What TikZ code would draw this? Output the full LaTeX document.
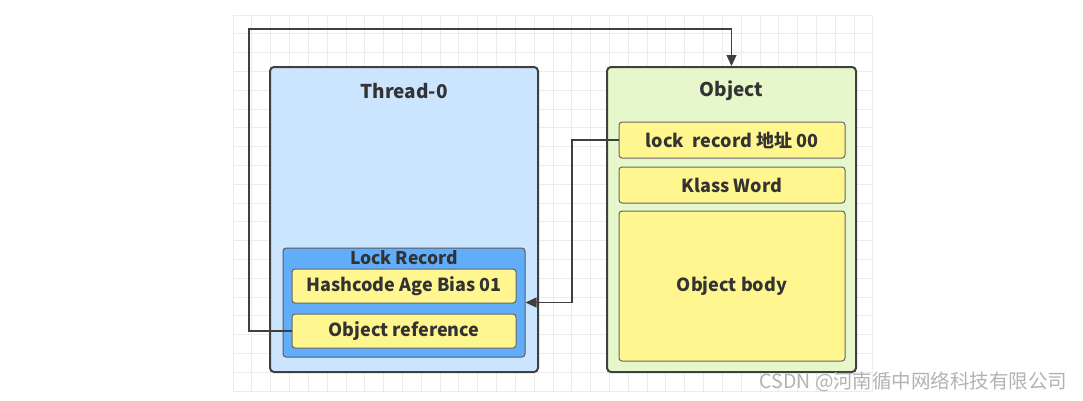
\documentclass[tikz,border=0pt]{standalone}
\usepackage{fontspec}
\setmainfont{Noto Sans CJK SC}
\usetikzlibrary{arrows.meta}
\definecolor{threadblue}{HTML}{CCE5FF}
\definecolor{recordblue}{HTML}{62ADFA}
\definecolor{fieldyellow}{HTML}{FFF68F}
\definecolor{objgreen}{HTML}{E6F7CC}
\definecolor{edgegray}{HTML}{3F3F3F}
\definecolor{gridgray}{HTML}{ECECEC}
\tikzset{
  outer/.style={draw=edgegray, line width=2pt, rounded corners=4pt},
  field/.style={draw=edgegray!80, line width=1pt, rounded corners=3pt,
    fill=fieldyellow, font=\bfseries\fontsize{18}{21}\selectfont, text=black!80},
  title/.style={font=\bfseries\fontsize{19}{22}\selectfont, text=black!80},
  link/.style={draw=edgegray, line width=1.2pt, -{Triangle[length=11pt,width=10pt]}}
}
\begin{document}
\begin{tikzpicture}[x=1pt,y=-1pt]
  \useasboundingbox (0,0) rectangle (1083,400);
  % background grid
  \foreach \i in {0,...,34}
    \draw[gridgray, line width=0.8pt] (233+\i*18.82,15) -- (233+\i*18.82,391);
  \foreach \j in {0,...,20}
    \draw[gridgray, line width=0.8pt] (233,15+\j*18.8) -- (873,15+\j*18.8);

  % thread side
  \node[outer, fill=threadblue, minimum width=268pt, minimum height=305pt]
    (Thread) at (404,219.5) {};
  \node[title] at (404,91) {Thread-0};
  \node[draw=edgegray!85, line width=1pt, rounded corners=3pt, fill=recordblue,
    minimum width=242pt, minimum height=109pt] (Record) at (404,302.5) {};
  \node[title, font=\bfseries\fontsize{17.5}{20}\selectfont] at (404,258) {Lock Record};
  \node[field, minimum width=224pt, minimum height=34pt] (Hash) at (404,286) {Hashcode Age Bias 01};
  \node[field, minimum width=224pt, minimum height=34pt] (ObjRef) at (404,331) {Object reference};

  % object side
  \node[outer, fill=objgreen, minimum width=249pt, minimum height=305pt]
    (Object) at (731.5,219.5) {};
  \node[title] at (731.5,91) {Object};
  \node[field, minimum width=226pt, minimum height=36pt] (Mark) at (732,140) {lock\ \ record 地址 00};
  \node[field, minimum width=226pt, minimum height=36pt] (Klass) at (732,185) {Klass Word};
  \node[field, minimum width=226pt, minimum height=150pt] (Body) at (732,286) {Object body};

  % pointers
  \coordinate (Up) at (249,29);
  \coordinate (Turn) at (572,140);
  \draw[link] (ObjRef.west) -| (Up) -| (Object.north);
  \draw[link] (Mark.west) -- (Turn) |- (Record.east);

  \node[anchor=east, text=black!30, font=\fontsize{19.5}{22}\selectfont]
    (Mark-wm) at (1071,382) {CSDN @河南循中网络科技有限公司};
\end{tikzpicture}
\end{document}
